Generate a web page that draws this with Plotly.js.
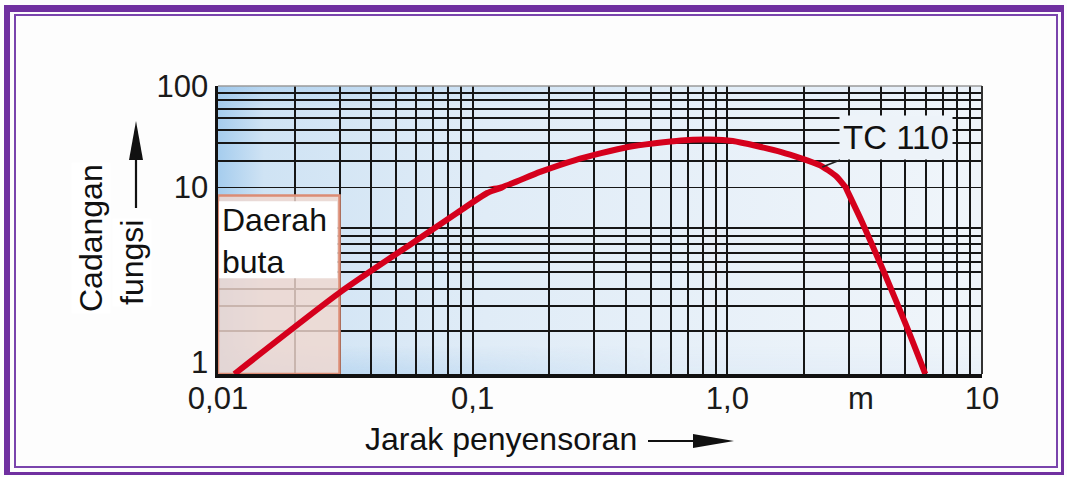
<!DOCTYPE html>
<html>
<head>
<meta charset="utf-8">
<script src="https://cdn.plot.ly/plotly-3.0.1.min.js"></script>
<style>
html,body{margin:0;padding:0;background:#fdfdfd;}
#wrap{position:relative;width:1067px;height:477px;overflow:hidden;}
#chart{position:absolute;left:0;top:0;width:1067px;height:477px;}
#frameOuter{position:absolute;left:4px;top:5px;width:1060px;height:470px;box-sizing:border-box;
  border-top:7px solid #7030a0;border-left:6px solid #7030a0;border-right:3px solid #7030a0;border-bottom:3px solid #7030a0;pointer-events:none;}
#frameInner{position:absolute;left:14px;top:14px;width:1044px;height:454px;box-sizing:border-box;
  border:2px solid #7a44ad;pointer-events:none;}
</style>
</head>
<body>
<div id="wrap">
<div id="chart"></div>
<div id="frameOuter"></div>
<div id="frameInner"></div>
</div>
<script>
// ---- data (log-log) ----
const distance = [0.0116, 0.0303, 0.0581, 0.0867, 0.114, 0.131, 0.184, 0.253, 0.407, 0.657, 0.85, 1.05, 1.63, 2.30, 2.67, 2.91, 3.38, 4.12, 5.03, 5.99];
const reserve  = [1.0,    2.75,   5.02,   7.26,   9.29,  10.0,  14.1,  18.5,  24.9,  28.9,  29.5, 28.5, 22.2, 16.5, 12.85, 10.0, 6.5, 3.51, 1.83, 1.0];
const seriesName = "TC 110";

const xTickVals = [0.01,0.02,0.03,0.04,0.05,0.06,0.07,0.08,0.09,
                   0.1,0.2,0.3,0.4,0.5,0.6,0.7,0.8,0.9,
                   1,2,3,4,5,6,7,8,9,10];
const xTickLabels = {0.01:"0,01", 0.1:"0,1", 1:"1,0", 10:"10"};
const yLowGrid  = [1, 1.7, 2.3, 2.85, 3.5, 3.95, 4.45, 4.95, 5.5, 6.0, 10];
const yHighGrid = [10, 18, 27, 37, 48, 59, 72, 85, 100];
const yTickLabels = {1:"1", 10:"10", 100:"100"};
const blindZoneX = [0.01, 0.03];
const blindZoneY = [1, 9];
const blindZoneLabel = "Daerah<br>buta";
const xTitle = "Jarak penyensoran";
const yTitleLines = ["Cadangan", "fungsi"];
const unitLabel = "m";

// ---- layout geometry (pixels) ----
const W = 1067, H = 477;
const L = 218, R = 982, T = 86, B = 374;
const split = 187; // pixel row of value 10
const px = x => (x - L) / (R - L);
const py = y => (B - y) / (B - T);
const splitFrac = py(split);

const FONT = "Liberation Sans, Arial, Helvetica, sans-serif";
const INK = "#1a1a1a";
const GRID = "#161616";
const GW = 2;

const gradSvg = '<svg xmlns="http://www.w3.org/2000/svg" width="100" height="100" preserveAspectRatio="none" viewBox="0 0 100 100">' +
  '<defs><linearGradient id="h" x1="0" y1="0" x2="1" y2="0">' +
  '<stop offset="0" stop-color="#a6cdee"/><stop offset="0.06" stop-color="#cfe3f4"/>' +
  '<stop offset="0.35" stop-color="#e0ecf7"/><stop offset="1" stop-color="#f0f5fa"/></linearGradient>' +
  '<linearGradient id="v" x1="0" y1="0" x2="0" y2="1">' +
  '<stop offset="0" stop-color="#9cc6ec" stop-opacity="0.55"/><stop offset="0.07" stop-color="#9cc6ec" stop-opacity="0"/>' +
  '<stop offset="0.9" stop-color="#9cc6ec" stop-opacity="0"/><stop offset="1" stop-color="#9cc6ec" stop-opacity="0.55"/></linearGradient>' +
  '<linearGradient id="m" x1="0" y1="0" x2="1" y2="0"><stop offset="0" stop-color="#fff" stop-opacity="1"/><stop offset="0.6" stop-color="#fff" stop-opacity="0.15"/></linearGradient>' +
  '<mask id="mk"><rect width="100" height="100" fill="url(#m)"/></mask></defs>' +
  '<rect width="100" height="100" fill="url(#h)"/>' +
  '<rect width="100" height="100" fill="url(#v)" mask="url(#mk)"/></svg>';
const gradUri = "data:image/svg+xml;charset=utf-8," + encodeURIComponent(gradSvg);

const lineStyle = {color: "#d5001c", width: 6, shape: "spline", smoothing: 0.6};
const traces = [
  {x: distance, y: reserve, type: "scatter", mode: "lines", name: seriesName, xaxis: "x", yaxis: "y", line: lineStyle, hoverinfo: "skip"},
  {x: distance, y: reserve, type: "scatter", mode: "lines", name: seriesName, xaxis: "x", yaxis: "y2", line: lineStyle, hoverinfo: "skip"}
];

const tickFont = {family: FONT, size: 31, color: INK};
const textFont = {family: FONT, size: 32, color: "#111"};

const shapes = [
  // blind zone
  {type: "rect", xref: "x", yref: "y", x0: blindZoneX[0], x1: blindZoneX[1], y0: blindZoneY[0], y1: blindZoneY[1],
   fillcolor: "rgba(240,216,208,0.82)", line: {color: "#dc8c74", width: 2.5}, layer: "between"},
  {type: "rect", xref: "x", yref: "y", x0: 0.0101, x1: 0.0294, y0: 3.25, y1: 8.4,
   fillcolor: "#ffffff", line: {width: 0}, layer: "between"},
  // boundary lines
  {type: "line", xref: "x", yref: "y", x0: 0.01, x1: 10, y0: 10, y1: 10, line: {color: GRID, width: GW}, layer: "between"},
  {type: "line", xref: "paper", yref: "paper", x0: 0, x1: 1, y0: 1, y1: 1, line: {color: "#9a9a9a", width: 1.5}},
  {type: "line", xref: "paper", yref: "paper", x0: 1, x1: 1, y0: 0, y1: 1, line: {color: "#333", width: 2}},
  // y title arrow
  {type: "line", xref: "paper", yref: "paper", x0: px(136), x1: px(136), y0: py(208), y1: py(150), line: {color: "#111", width: 2.2}},
  {type: "path", xref: "paper", yref: "paper",
   path: `M ${px(129)} ${py(160)} L ${px(136)} ${py(121)} L ${px(143)} ${py(160)} Z`, fillcolor: "#111", line: {width: 0}},
  // x title arrow
  {type: "line", xref: "paper", yref: "paper", x0: px(648), x1: px(700), y0: py(441), y1: py(441), line: {color: "#111", width: 2.2}},
  {type: "path", xref: "paper", yref: "paper",
   path: `M ${px(693)} ${py(434)} L ${px(734)} ${py(441)} L ${px(693)} ${py(448)} Z`, fillcolor: "#111", line: {width: 0}}
];

const annotations = [
  {xref: "paper", yref: "paper", x: px(220), y: py(241), xanchor: "left", yanchor: "middle", align: "left",
   text: blindZoneLabel, showarrow: false, font: textFont},
  {xref: "x", yref: "y2", x: Math.log10(2.36), y: Math.log10(15.8), ax: 74, ay: -29,
   text: seriesName, showarrow: true, arrowhead: 0, arrowwidth: 1.6, arrowcolor: "#222",
   bgcolor: "#edf3f9", borderpad: 3, font: {family: FONT, size: 33, color: "#111"}},
  {xref: "paper", yref: "paper", x: px(501), y: py(439), xanchor: "center", yanchor: "middle",
   text: xTitle, showarrow: false, font: textFont},
  {xref: "paper", yref: "paper", x: px(861), y: py(398), xanchor: "center", yanchor: "middle",
   text: unitLabel, showarrow: false, font: tickFont},
  {xref: "paper", yref: "paper", x: px(91), y: py(238), xanchor: "center", yanchor: "middle", textangle: -90,
   text: yTitleLines[0], showarrow: false, font: textFont, bgcolor: "#ffffff"},
  {xref: "paper", yref: "paper", x: px(132), y: py(263), xanchor: "center", yanchor: "middle", textangle: -90,
   text: yTitleLines[1], showarrow: false, font: textFont, bgcolor: "#ffffff"}
];

const layout = {
  width: W, height: H,
  margin: {l: L, r: W - R, t: T, b: H - B, pad: 0},
  paper_bgcolor: "rgba(0,0,0,0)",
  plot_bgcolor: "rgba(0,0,0,0)",
  showlegend: false,
  font: {family: FONT, color: INK},
  images: [{source: gradUri, xref: "paper", yref: "paper", x: 0, y: 1, sizex: 1, sizey: 1,
            sizing: "stretch", xanchor: "left", yanchor: "top", layer: "below"}],
  xaxis: {
    type: "log", range: [-2, 1], anchor: "y",
    tickmode: "array", tickvals: xTickVals, ticktext: xTickVals.map(v => xTickLabels[v] || ""),
    showgrid: true, gridcolor: GRID, gridwidth: GW,
    showline: true, linecolor: "#111", linewidth: 3.5,
    ticks: "", tickfont: tickFont, ticklabelstandoff: -6, zeroline: false, fixedrange: true
  },
  yaxis: {
    type: "log", range: [0, 1], domain: [0, splitFrac], anchor: "x",
    tickmode: "array", tickvals: yLowGrid, ticktext: yLowGrid.map(v => v === 1 ? yTickLabels[1] : ""),
    showgrid: true, gridcolor: GRID, gridwidth: GW,
    showline: true, linecolor: "#111", linewidth: 3.5,
    ticks: "", tickfont: tickFont, ticklabelshift: -12, zeroline: false, fixedrange: true
  },
  yaxis2: {
    type: "log", range: [1, 2], domain: [splitFrac, 1], anchor: "x",
    tickmode: "array", tickvals: yHighGrid, ticktext: yHighGrid.map(v => yTickLabels[v] || ""),
    showgrid: true, gridcolor: GRID, gridwidth: GW,
    showline: true, linecolor: "#111", linewidth: 3.5,
    ticks: "", tickfont: tickFont, zeroline: false, fixedrange: true
  },
  shapes: shapes,
  annotations: annotations
};

Plotly.newPlot("chart", traces, layout, {displayModeBar: false, staticPlot: true});
</script>
</body>
</html>
